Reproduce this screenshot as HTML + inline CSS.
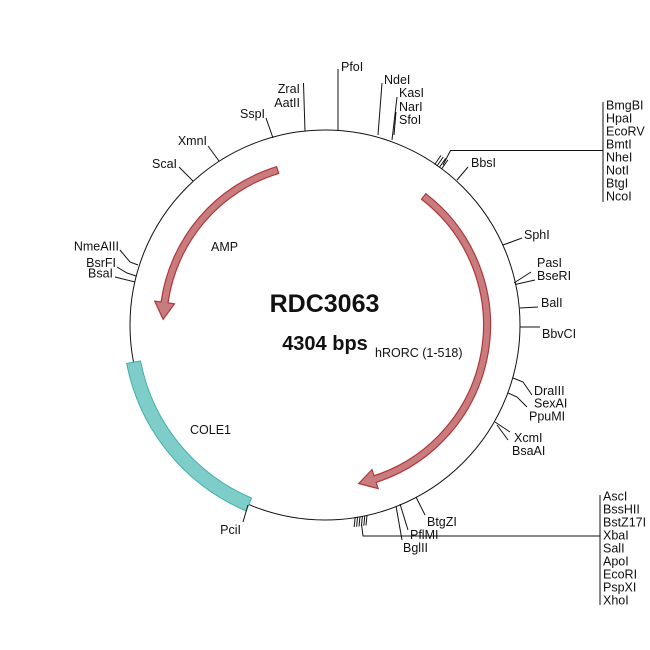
<!DOCTYPE html>
<html><head><meta charset="utf-8"><style>
html,body{margin:0;padding:0;background:#fff;}
svg{display:block;}
text{font-family:"Liberation Sans",Arial,sans-serif;fill:#111;}
.l{font-size:12.5px;}
</style></head><body>
<svg width="650" height="650" viewBox="0 0 650 650" xmlns="http://www.w3.org/2000/svg">
<rect width="650" height="650" fill="#fff"/>
<!-- backbone -->
<circle cx="325" cy="325" r="195" fill="none" stroke="#111" stroke-width="1"/>

<!-- COLE1 band -->
<path d="M126.7,363.5 A202,202 0 0 0 246.1,510.9 L251.55,498.05 A188,188 0 0 1 140.5,360.9 Z" fill="#7fcdc9" stroke="#3fb0aa" stroke-width="1"/>

<!-- AMP arrow -->
<path d="M276.6,166.7 A165.5,165.5 0 0 0 161.1,302.0 L154.7,301.1 L163.1,319.3 L174.5,303.8 L168.0,302.9 A158.5,158.5 0 0 1 278.7,173.4 Z" fill="#c97c7e" stroke="#b3353a" stroke-width="1.2" stroke-linejoin="miter"/>

<!-- hRORC arrow -->
<path d="M425.8,193.7 A165.5,165.5 0 0 1 376.1,482.4 L378.2,488.6 L358.7,483.5 L372.0,469.6 L374.0,475.75 A158.5,158.5 0 0 0 421.5,199.25 Z" fill="#c97c7e" stroke="#b3353a" stroke-width="1.2"/>

<!-- center labels -->
<text x="324.5" y="312" font-size="25" font-weight="bold" text-anchor="middle">RDC3063</text>
<text x="325" y="350" font-size="20" font-weight="bold" text-anchor="middle">4304 bps</text>
<text x="375" y="357" font-size="12.5">hRORC (1-518)</text>
<text x="211" y="251" font-size="12.5">AMP</text>
<text x="190" y="434" font-size="12.5">COLE1</text>

<g stroke="#111" stroke-width="1" fill="none">
<!-- top-left -->
<line x1="193" y1="181" x2="179" y2="167"/>
<line x1="219" y1="161" x2="208" y2="146"/>
<line x1="273" y1="138" x2="266" y2="118"/>
<line x1="305" y1="131" x2="303.5" y2="83"/>
<line x1="338" y1="130" x2="338" y2="69"/>
<line x1="378" y1="135" x2="382" y2="83"/>
<line x1="392" y1="140" x2="397" y2="97"/>
<line x1="394" y1="135" x2="396" y2="112"/>
<!-- top-right cluster -->
<line x1="434.6" y1="164.6" x2="441.0" y2="155.4"/>
<line x1="436.9" y1="166.1" x2="443.3" y2="156.9"/>
<line x1="439.2" y1="167.6" x2="445.6" y2="158.4"/>
<line x1="441.5" y1="169.1" x2="447.9" y2="159.9"/>
<polyline points="443,165 450.5,150.5 603,150.5"/>
<line x1="603" y1="102" x2="603" y2="202"/>
<line x1="457" y1="180" x2="468" y2="167"/>
<!-- right -->
<line x1="503" y1="245" x2="522" y2="238"/>
<line x1="514" y1="283" x2="531" y2="272"/>
<line x1="515" y1="284.5" x2="535" y2="280"/>
<line x1="520" y1="308" x2="538" y2="307"/>
<line x1="520" y1="327" x2="540" y2="327"/>
<polyline points="513,378 523,382 532,395"/>
<polyline points="508,393 517,397 527,407"/>
<line x1="495" y1="422" x2="510" y2="432"/>
<line x1="497" y1="425" x2="508" y2="440"/>
<!-- bottom -->
<line x1="416" y1="497" x2="425" y2="515"/>
<line x1="400" y1="504" x2="408" y2="530"/>
<line x1="396" y1="506" x2="402" y2="540"/>
<line x1="355.2" y1="517" x2="354.2" y2="527"/>
<line x1="357.6" y1="516.7" x2="356.6" y2="526.7"/>
<line x1="360.0" y1="516.4" x2="359.0" y2="526.4"/>
<line x1="362.4" y1="516.1" x2="361.4" y2="526.1"/>
<line x1="364.8" y1="515.7" x2="363.8" y2="525.7"/>
<line x1="367.0" y1="515.3" x2="366.0" y2="525.3"/>
<polyline points="361.5,524 363,536 600,536"/>
<line x1="600" y1="495" x2="600" y2="605"/>
<line x1="248" y1="505" x2="243" y2="522"/>
<!-- left -->
<polyline points="138,265 130,262 120,250"/>
<polyline points="136,276 127,273 117,267"/>
<line x1="135" y1="282" x2="115" y2="277"/>
</g>

<g class="l">
<text x="177" y="168" text-anchor="end">ScaI</text>
<text x="207" y="145" text-anchor="end">XmnI</text>
<text x="265" y="118" text-anchor="end">SspI</text>
<text x="300" y="93" text-anchor="end">ZraI</text>
<text x="300" y="107" text-anchor="end">AatII</text>
<text x="341" y="71">PfoI</text>
<text x="384" y="84">NdeI</text>
<text x="399" y="97">KasI</text>
<text x="399" y="111">NarI</text>
<text x="399" y="124">SfoI</text>
<text x="471" y="167">BbsI</text>

<text x="606" y="109.5">BmgBI</text>
<text x="606" y="122.5">HpaI</text>
<text x="606" y="135.5">EcoRV</text>
<text x="606" y="148.5">BmtI</text>
<text x="606" y="161.5">NheI</text>
<text x="606" y="174.5">NotI</text>
<text x="606" y="187.5">BtgI</text>
<text x="606" y="200.5">NcoI</text>

<text x="524" y="239">SphI</text>
<text x="537" y="267">PasI</text>
<text x="537" y="280">BseRI</text>
<text x="541" y="307">BalI</text>
<text x="542" y="338">BbvCI</text>
<text x="534" y="395">DraIII</text>
<text x="534" y="407.5">SexAI</text>
<text x="529" y="420.5">PpuMI</text>
<text x="514" y="442">XcmI</text>
<text x="512" y="455">BsaAI</text>

<text x="427" y="526">BtgZI</text>
<text x="410" y="539">PflMI</text>
<text x="403" y="552">BglII</text>

<text x="603" y="500.5">AscI</text>
<text x="603" y="513.5">BssHII</text>
<text x="603" y="526.5">BstZ17I</text>
<text x="603" y="539.5">XbaI</text>
<text x="603" y="552.5">SalI</text>
<text x="603" y="565.5">ApoI</text>
<text x="603" y="578.5">EcoRI</text>
<text x="603" y="591.5">PspXI</text>
<text x="603" y="604.5">XhoI</text>

<text x="241" y="534" text-anchor="end">PciI</text>

<text x="119" y="250.5" text-anchor="end">NmeAIII</text>
<text x="116" y="267" text-anchor="end">BsrFI</text>
<text x="113" y="277.5" text-anchor="end">BsaI</text>
</g>
</svg>
</body></html>
